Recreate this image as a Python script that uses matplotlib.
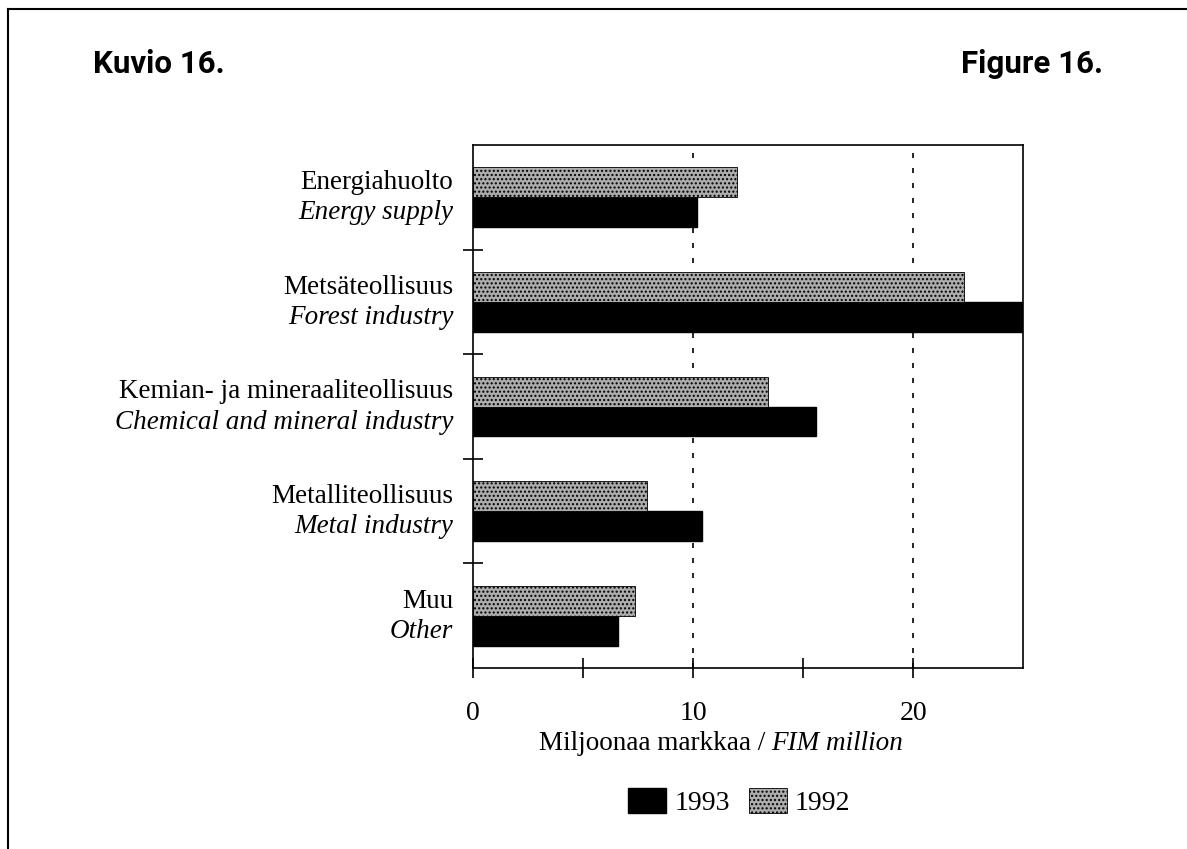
import numpy as np
import matplotlib.pyplot as plt
from matplotlib.lines import Line2D
from matplotlib.patches import Patch

# data
toimialat_fi = ['Energiahuolto', 'Metsäteollisuus', 'Kemian- ja mineraaliteollisuus',
                'Metalliteollisuus', 'Muu']
toimialat_en = ['Energy supply', 'Forest industry', 'Chemical and mineral industry',
                'Metal industry', 'Other']
v1993 = [10.2, 25.0, 15.6, 10.4, 6.6]
v1992 = [12.0, 22.3, 13.4, 7.9, 7.35]
xticks = [0, 10, 20]

plt.rcParams['font.family'] = ['Liberation Serif', 'DejaVu Serif']
plt.rcParams['hatch.linewidth'] = 1.0
plt.rcParams['hatch.color'] = '#4a4a4a'

harmaa = '#acacac'
otsikko_font = ['Roboto', 'DejaVu Sans']

fig = plt.figure(figsize=(11.87, 8.49), dpi=100)
ax = fig.add_axes([0.3985, 0.2132, 0.4634, 0.616])

y = np.arange(len(toimialat_fi))
h = 0.286
ax.barh(y + h / 2, v1993, h, color='black', edgecolor='black')
ax.barh(y - h / 2, v1992, h, color=harmaa, edgecolor='black', linewidth=0.6,
        hatch='....')

ax.set_xlim(0, 25)
ax.set_ylim(4.5, -0.5)

for xg in [10, 20]:
    ax.axvline(xg, color='black', lw=1.2, ls=(0, (3, 6)), zorder=0)

ax.set_xticks(xticks)
ax.set_xticklabels([str(t) for t in xticks], fontsize=20)
ax.set_xticks([5, 15], minor=True)
ax.tick_params(axis='x', which='both', direction='inout', length=14, width=1.2, pad=17)
ax.set_yticks([])
ax.set_yticks([0.5, 1.5, 2.5, 3.5], minor=True)
ax.tick_params(axis='y', which='minor', direction='inout', length=14, width=1.2)
ax.tick_params(axis='y', which='major', length=0)
for s in ax.spines.values():
    s.set_linewidth(1.2)

lab_trans = ax.get_yaxis_transform()
for i in range(len(toimialat_fi)):
    ax.text(-0.036, i - 0.14, toimialat_fi[i], transform=lab_trans, ha='right',
            va='center', fontsize=19.5)
    ax.text(-0.036, i + 0.15, toimialat_en[i], transform=lab_trans, ha='right',
            va='center', fontsize=19.5, style='italic')

# x-akselin otsikko: suomi pysty, englanti kursiivi
fig.text(0.6445, 0.124, 'Miljoonaa markkaa /', ha='right', va='center', fontsize=19.5)
fig.text(0.6495, 0.124, 'FIM million', ha='left', va='center', fontsize=19.5,
         style='italic')

handles = [Patch(facecolor='black', edgecolor='black'),
           Patch(facecolor=harmaa, edgecolor='black', linewidth=0.6, hatch='....')]
fig.legend(handles, ['1993', '1992'], loc='center', bbox_to_anchor=(0.623, 0.0554),
           ncol=2, frameon=False, fontsize=20, handlelength=1.35, handleheight=1.0,
           handletextpad=0.3, columnspacing=0.7)

fig.text(0.078, 0.9246, 'Kuvio 16.', fontsize=22.5, fontweight='bold',
         family=otsikko_font, ha='left', va='center')
fig.text(0.929, 0.9246, 'Figure 16.', fontsize=22.5, fontweight='bold',
         family=otsikko_font, ha='right', va='center')

# kehyksen viivat
fig.add_artist(Line2D([0.007, 0.007], [0.0, 0.989], color='black', lw=1.5))
fig.add_artist(Line2D([0.007, 1.0], [0.989, 0.989], color='black', lw=1.5))

fig.savefig('out.png', dpi=100)
